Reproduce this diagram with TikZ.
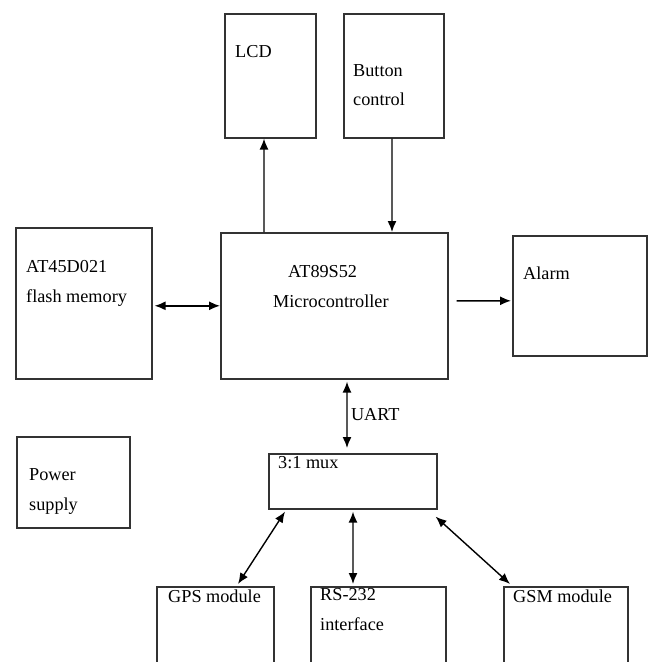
\documentclass[tikz,border=0pt]{standalone}
\usepackage{fontspec}
\setmainfont{Liberation Serif}
\usetikzlibrary{arrows.meta}

\begin{document}
\begin{tikzpicture}[x=1bp, y=-1bp, >={Latex[length=11bp,width=9bp]},
  blk/.style={draw=black!80, line width=1.6bp, anchor=north west, inner sep=0pt},
  txt/.style={anchor=base west, inner sep=0pt, align=left,
    font=\fontsize{18.3}{29.5}\selectfont},
  link/.style={line width=1.4bp}]
  \path[use as bounding box, clip] (0,0) rectangle (650,662);

  % blocks
  \node[blk, minimum width=91bp,  minimum height=124bp] (lcd)   at (224,13)  {};
  \node[blk, minimum width=100bp, minimum height=124bp] (btn)   at (343,13)  {};
  \node[blk, minimum width=136bp, minimum height=151bp] (flash) at (15,227)  {};
  \node[blk, minimum width=227bp, minimum height=146bp] (mcu)   at (220,232) {};
  \node[blk, minimum width=134bp, minimum height=120bp] (alarm) at (512,235) {};
  \node[blk, minimum width=113bp, minimum height=91bp]  (power) at (16,436)  {};
  \node[blk, minimum width=168bp, minimum height=55bp]  (mux)   at (268,453) {};
  \node[blk, minimum width=117bp, minimum height=110bp] (gps)   at (156,586) {};
  \node[blk, minimum width=135bp, minimum height=110bp] (rs)    at (310,586) {};
  \node[blk, minimum width=124bp, minimum height=110bp] (gsm)   at (503,586) {};

  % texts (base = last line)
  \node[txt] (lcdt)   at (235,58)  {LCD};
  \node[txt] (btnt)   at (353,106) {Button\\control};
  \node[txt] (flasht) at (26,302)  {AT45D021\\flash memory};
  \node[txt] (mcut1)  at (288,277) {AT89S52};
  \node[txt] (mcut2)  at (273,307) {Microcontroller};
  \node[txt] (alarmt) at (523,279) {Alarm};
  \node[txt] (powert) at (29,510)  {Power\\supply};
  \node[txt] (muxt)   at (278,468) {3:1 mux};
  \node[txt] (gpst)   at (168,602) {GPS module};
  \node[txt] (rst)    at (320,630) {RS-232\\interface};
  \node[txt] (gsmt)   at (513,602) {GSM module};

  % links
  \draw[link, ->] ([xshift=44bp]mcu.north west) -- ([xshift=40bp]lcd.south west);
  \draw[link, ->] ([xshift=49bp]btn.south west) -- ([xshift=172bp]mcu.north west);
  \draw[link, <->] ([xshift=2bp]flash.east |- mcu.west) -- (mcu.west);
  \draw[link, ->] ([xshift=8bp,yshift=5bp]mcu.east) -- ([xshift=-1bp,yshift=-5bp]alarm.west);
  \draw[link, <->] ([xshift=127bp,yshift=-2bp]mcu.south west)
    -- node[right, font=\fontsize{18.3}{22}\selectfont] (uart) {UART}
    ([xshift=79bp,yshift=5bp]mux.north west);
  \draw[link, <->] ([xshift=17bp,yshift=-2bp]mux.south west) -- ([xshift=82bp,yshift=2bp]gps.north west);
  \draw[link, <->] ([xshift=85bp,yshift=-2bp]mux.south west) -- ([xshift=43bp,yshift=2bp]rs.north west);
  \draw[link, <->] ([xshift=-2bp,yshift=-7bp]mux.south east) -- ([xshift=7bp,yshift=2bp]gsm.north west);
\end{tikzpicture}
\end{document}
